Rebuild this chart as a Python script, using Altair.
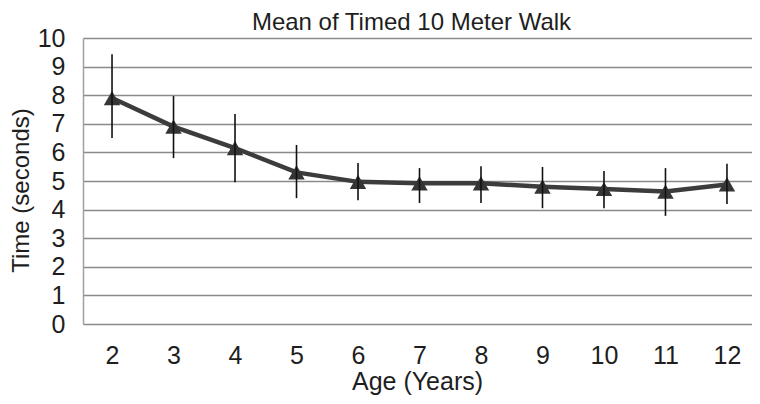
import altair as alt
import pandas as pd

ages = [2, 3, 4, 5, 6, 7, 8, 9, 10, 11, 12]
means = [7.9, 6.9, 6.15, 5.3, 4.97, 4.92, 4.92, 4.8, 4.72, 4.63, 4.88]
upper = [9.43, 7.97, 7.34, 6.26, 5.63, 5.45, 5.52, 5.49, 5.35, 5.45, 5.6]
lower = [6.5, 5.8, 4.96, 4.4, 4.33, 4.23, 4.23, 4.05, 4.05, 3.78, 4.2]
y_ticks = [0, 1, 2, 3, 4, 5, 6, 7, 8, 9, 10]

df = pd.DataFrame({"age": ages, "mean": means, "hi": upper, "lo": lower})

FONT = "Liberation Sans, Arial"
TXT = "#1e1e1e"

x_axis = alt.Axis(values=ages, format="d", title="Age (Years)", grid=False, domain=False, ticks=False,
                  labelFontSize=25, labelPadding=39, labelBaseline="alphabetic",
                  titleFontSize=25, titleX=334, titleY=65, titleBaseline="alphabetic",
                  labelColor=TXT, titleColor=TXT, titleFontWeight="normal",
                  labelFont=FONT, titleFont=FONT, labelOverlap=False, labelFlush=False)
y_axis = alt.Axis(values=y_ticks, format="d", title="Time (seconds)", grid=True,
                  gridColor="#8a8a8a", gridWidth=1.5, domain=True, domainColor="#a0a0a0",
                  domainWidth=1.5, ticks=False, labelFontSize=25, labelPadding=18,
                  titleFontSize=24, titleX=-62, titleY=152, titleAngle=270,
                  titleAlign="center", titleBaseline="middle",
                  labelColor=TXT, titleColor=TXT, titleFontWeight="normal",
                  labelFont=FONT, titleFont=FONT, labelOverlap=False, labelFlush=False)

xs = alt.Scale(domain=[1.528, 12.407], nice=False, zero=False)
ys = alt.Scale(domain=[0, 10], nice=False)

base = alt.Chart(df)
line = base.mark_line(color="#3c3c3c", strokeWidth=4.5).encode(
    x=alt.X("age:Q", scale=xs, axis=x_axis), y=alt.Y("mean:Q", scale=ys, axis=y_axis))
pts = base.mark_point(shape="triangle-up", filled=True, color="#353535", size=270, opacity=1).encode(
    x=alt.X("age:Q", scale=xs, axis=x_axis), y=alt.Y("mean:Q", scale=ys, axis=y_axis))
err = base.mark_rule(color="#111111", strokeWidth=1.6).encode(
    x=alt.X("age:Q", scale=xs, axis=x_axis), y=alt.Y("lo:Q", scale=ys, axis=y_axis), y2="hi:Q")

chart = alt.layer(line, pts, err).properties(
    width=669, height=286,
    title=alt.TitleParams("Mean of Timed 10 Meter Walk", fontSize=24, font=FONT,
                          fontWeight="normal", color=TXT, offset=-9, dx=-6),
    autosize=alt.AutoSizeParams(type="none"),
    padding={"left": 75, "top": 30, "right": 0, "bottom": 72},
).configure_view(stroke=None)

chart.save("out.html", embed_options={"renderer": "svg", "actions": False})
